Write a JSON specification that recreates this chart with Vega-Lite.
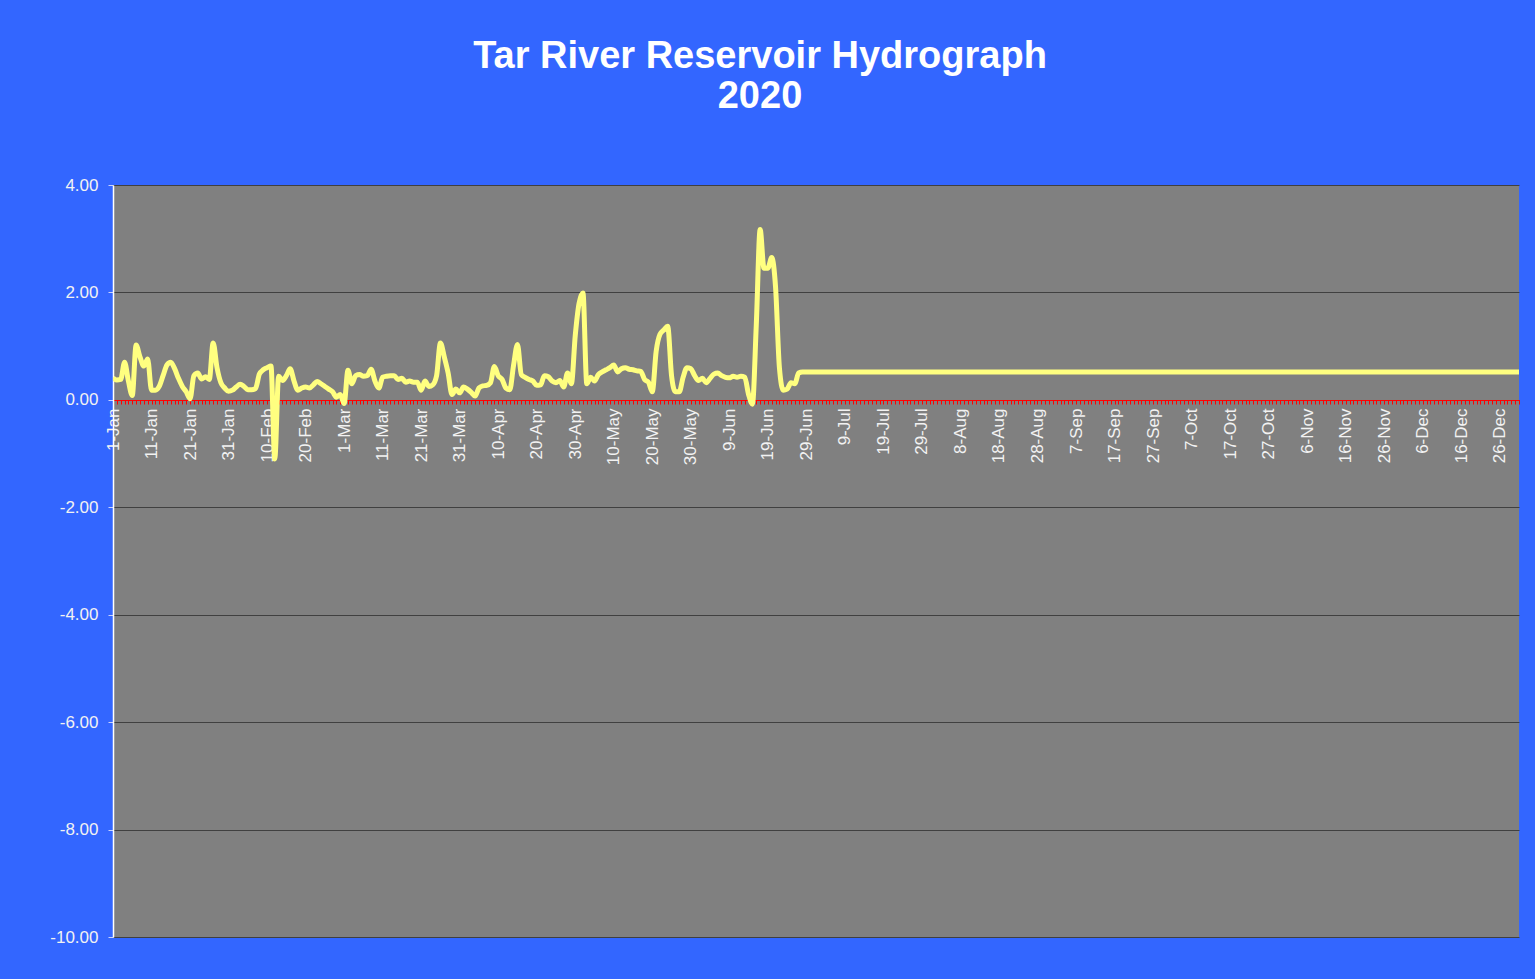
{
  "$schema": "https://vega.github.io/schema/vega-lite/v6.json",
  "width": 1406,
  "height": 752,
  "autosize": {"type": "none"},
  "padding": {"left": 113, "top": 185, "right": 16, "bottom": 42},
  "background": "#3366FF",
  "config": {
    "view": {"fill": "#808080", "stroke": null},
    "font": "Liberation Sans"
  },
  "title": {
    "text": ["Tar River Reservoir Hydrograph", "2020"],
    "color": "#FFFFFF",
    "font": "Liberation Sans",
    "fontSize": 38,
    "fontWeight": "bold",
    "lineHeight": 40,
    "anchor": "middle",
    "frame": "group",
    "dx": -56,
    "offset": 60
  },
  "data": {
    "values": [
      {"date": "2020-01-01", "level": 0.41}, {"date": "2020-01-02", "level": 0.37}, {"date": "2020-01-03", "level": 0.38}, {"date": "2020-01-04", "level": 0.70}, {"date": "2020-01-05", "level": 0.35},
      {"date": "2020-01-06", "level": 0.08}, {"date": "2020-01-07", "level": 1.02}, {"date": "2020-01-08", "level": 0.80}, {"date": "2020-01-09", "level": 0.63}, {"date": "2020-01-10", "level": 0.76},
      {"date": "2020-01-11", "level": 0.18}, {"date": "2020-01-12", "level": 0.18}, {"date": "2020-01-13", "level": 0.25}, {"date": "2020-01-14", "level": 0.45}, {"date": "2020-01-15", "level": 0.65},
      {"date": "2020-01-16", "level": 0.70}, {"date": "2020-01-17", "level": 0.58}, {"date": "2020-01-18", "level": 0.40}, {"date": "2020-01-19", "level": 0.25}, {"date": "2020-01-20", "level": 0.15},
      {"date": "2020-01-21", "level": 0.02}, {"date": "2020-01-22", "level": 0.45}, {"date": "2020-01-23", "level": 0.50}, {"date": "2020-01-24", "level": 0.39}, {"date": "2020-01-25", "level": 0.43},
      {"date": "2020-01-26", "level": 0.38}, {"date": "2020-01-27", "level": 1.06}, {"date": "2020-01-28", "level": 0.60}, {"date": "2020-01-29", "level": 0.32}, {"date": "2020-01-30", "level": 0.22},
      {"date": "2020-01-31", "level": 0.16},
      {"date": "2020-02-01", "level": 0.18}, {"date": "2020-02-02", "level": 0.24}, {"date": "2020-02-03", "level": 0.29}, {"date": "2020-02-04", "level": 0.25}, {"date": "2020-02-05", "level": 0.19},
      {"date": "2020-02-06", "level": 0.19}, {"date": "2020-02-07", "level": 0.21}, {"date": "2020-02-08", "level": 0.48}, {"date": "2020-02-09", "level": 0.56}, {"date": "2020-02-10", "level": 0.60},
      {"date": "2020-02-11", "level": 0.63}, {"date": "2020-02-12", "level": -1.10}, {"date": "2020-02-13", "level": 0.44}, {"date": "2020-02-14", "level": 0.36}, {"date": "2020-02-15", "level": 0.45},
      {"date": "2020-02-16", "level": 0.58}, {"date": "2020-02-17", "level": 0.35}, {"date": "2020-02-18", "level": 0.18}, {"date": "2020-02-19", "level": 0.22}, {"date": "2020-02-20", "level": 0.24},
      {"date": "2020-02-21", "level": 0.22}, {"date": "2020-02-22", "level": 0.28}, {"date": "2020-02-23", "level": 0.34}, {"date": "2020-02-24", "level": 0.30}, {"date": "2020-02-25", "level": 0.25},
      {"date": "2020-02-26", "level": 0.20}, {"date": "2020-02-27", "level": 0.15}, {"date": "2020-02-28", "level": 0.05}, {"date": "2020-02-29", "level": 0.10},
      {"date": "2020-03-01", "level": -0.07}, {"date": "2020-03-02", "level": 0.55}, {"date": "2020-03-03", "level": 0.30}, {"date": "2020-03-04", "level": 0.45}, {"date": "2020-03-05", "level": 0.47},
      {"date": "2020-03-06", "level": 0.44}, {"date": "2020-03-07", "level": 0.45}, {"date": "2020-03-08", "level": 0.57}, {"date": "2020-03-09", "level": 0.35}, {"date": "2020-03-10", "level": 0.22},
      {"date": "2020-03-11", "level": 0.42}, {"date": "2020-03-12", "level": 0.44}, {"date": "2020-03-13", "level": 0.45}, {"date": "2020-03-14", "level": 0.45}, {"date": "2020-03-15", "level": 0.38},
      {"date": "2020-03-16", "level": 0.40}, {"date": "2020-03-17", "level": 0.33}, {"date": "2020-03-18", "level": 0.35}, {"date": "2020-03-19", "level": 0.33}, {"date": "2020-03-20", "level": 0.33},
      {"date": "2020-03-21", "level": 0.18}, {"date": "2020-03-22", "level": 0.35}, {"date": "2020-03-23", "level": 0.25}, {"date": "2020-03-24", "level": 0.28}, {"date": "2020-03-25", "level": 0.45},
      {"date": "2020-03-26", "level": 1.06}, {"date": "2020-03-27", "level": 0.80}, {"date": "2020-03-28", "level": 0.50}, {"date": "2020-03-29", "level": 0.10}, {"date": "2020-03-30", "level": 0.20},
      {"date": "2020-03-31", "level": 0.13},
      {"date": "2020-04-01", "level": 0.24}, {"date": "2020-04-02", "level": 0.20}, {"date": "2020-04-03", "level": 0.14}, {"date": "2020-04-04", "level": 0.07}, {"date": "2020-04-05", "level": 0.22},
      {"date": "2020-04-06", "level": 0.26}, {"date": "2020-04-07", "level": 0.27}, {"date": "2020-04-08", "level": 0.32}, {"date": "2020-04-09", "level": 0.62}, {"date": "2020-04-10", "level": 0.45},
      {"date": "2020-04-11", "level": 0.38}, {"date": "2020-04-12", "level": 0.22}, {"date": "2020-04-13", "level": 0.19}, {"date": "2020-04-14", "level": 0.65}, {"date": "2020-04-15", "level": 1.03},
      {"date": "2020-04-16", "level": 0.47}, {"date": "2020-04-17", "level": 0.42}, {"date": "2020-04-18", "level": 0.38}, {"date": "2020-04-19", "level": 0.35}, {"date": "2020-04-20", "level": 0.27},
      {"date": "2020-04-21", "level": 0.28}, {"date": "2020-04-22", "level": 0.45}, {"date": "2020-04-23", "level": 0.43}, {"date": "2020-04-24", "level": 0.35}, {"date": "2020-04-25", "level": 0.32},
      {"date": "2020-04-26", "level": 0.36}, {"date": "2020-04-27", "level": 0.24}, {"date": "2020-04-28", "level": 0.50}, {"date": "2020-04-29", "level": 0.30}, {"date": "2020-04-30", "level": 1.20},
      {"date": "2020-05-01", "level": 1.80}, {"date": "2020-05-02", "level": 1.99}, {"date": "2020-05-03", "level": 0.30}, {"date": "2020-05-04", "level": 0.42}, {"date": "2020-05-05", "level": 0.35},
      {"date": "2020-05-06", "level": 0.47}, {"date": "2020-05-07", "level": 0.52}, {"date": "2020-05-08", "level": 0.56}, {"date": "2020-05-09", "level": 0.60}, {"date": "2020-05-10", "level": 0.65},
      {"date": "2020-05-11", "level": 0.52}, {"date": "2020-05-12", "level": 0.58}, {"date": "2020-05-13", "level": 0.60}, {"date": "2020-05-14", "level": 0.57}, {"date": "2020-05-15", "level": 0.56},
      {"date": "2020-05-16", "level": 0.54}, {"date": "2020-05-17", "level": 0.53}, {"date": "2020-05-18", "level": 0.38}, {"date": "2020-05-19", "level": 0.33}, {"date": "2020-05-20", "level": 0.15},
      {"date": "2020-05-21", "level": 0.90}, {"date": "2020-05-22", "level": 1.22}, {"date": "2020-05-23", "level": 1.30}, {"date": "2020-05-24", "level": 1.37}, {"date": "2020-05-25", "level": 0.45},
      {"date": "2020-05-26", "level": 0.15}, {"date": "2020-05-27", "level": 0.15}, {"date": "2020-05-28", "level": 0.42}, {"date": "2020-05-29", "level": 0.60}, {"date": "2020-05-30", "level": 0.58},
      {"date": "2020-05-31", "level": 0.45},
      {"date": "2020-06-01", "level": 0.36}, {"date": "2020-06-02", "level": 0.40}, {"date": "2020-06-03", "level": 0.32}, {"date": "2020-06-04", "level": 0.40}, {"date": "2020-06-05", "level": 0.48},
      {"date": "2020-06-06", "level": 0.50}, {"date": "2020-06-07", "level": 0.45}, {"date": "2020-06-08", "level": 0.42}, {"date": "2020-06-09", "level": 0.41}, {"date": "2020-06-10", "level": 0.44},
      {"date": "2020-06-11", "level": 0.42}, {"date": "2020-06-12", "level": 0.44}, {"date": "2020-06-13", "level": 0.42}, {"date": "2020-06-14", "level": 0.10}, {"date": "2020-06-15", "level": -0.08},
      {"date": "2020-06-16", "level": 1.40}, {"date": "2020-06-17", "level": 3.17}, {"date": "2020-06-18", "level": 2.45}, {"date": "2020-06-19", "level": 2.45}, {"date": "2020-06-20", "level": 2.65},
      {"date": "2020-06-21", "level": 2.10}, {"date": "2020-06-22", "level": 0.60}, {"date": "2020-06-23", "level": 0.18}, {"date": "2020-06-24", "level": 0.20}, {"date": "2020-06-25", "level": 0.32},
      {"date": "2020-06-26", "level": 0.30}, {"date": "2020-06-27", "level": 0.50}, {"date": "2020-06-28", "level": 0.52}, {"date": "2020-06-29", "level": 0.52}, {"date": "2020-06-30", "level": 0.52},
      {"date": "2020-07-01", "level": 0.52}, {"date": "2020-07-02", "level": 0.52}, {"date": "2020-07-03", "level": 0.52}, {"date": "2020-07-04", "level": 0.52}, {"date": "2020-07-05", "level": 0.52},
      {"date": "2020-07-06", "level": 0.52}, {"date": "2020-07-07", "level": 0.52}, {"date": "2020-07-08", "level": 0.52}, {"date": "2020-07-09", "level": 0.52}, {"date": "2020-07-10", "level": 0.52},
      {"date": "2020-07-11", "level": 0.52}, {"date": "2020-07-12", "level": 0.52}, {"date": "2020-07-13", "level": 0.52}, {"date": "2020-07-14", "level": 0.52}, {"date": "2020-07-15", "level": 0.52},
      {"date": "2020-07-16", "level": 0.52}, {"date": "2020-07-17", "level": 0.52}, {"date": "2020-07-18", "level": 0.52}, {"date": "2020-07-19", "level": 0.52}, {"date": "2020-07-20", "level": 0.52},
      {"date": "2020-07-21", "level": 0.52}, {"date": "2020-07-22", "level": 0.52}, {"date": "2020-07-23", "level": 0.52}, {"date": "2020-07-24", "level": 0.52}, {"date": "2020-07-25", "level": 0.52},
      {"date": "2020-07-26", "level": 0.52}, {"date": "2020-07-27", "level": 0.52}, {"date": "2020-07-28", "level": 0.52}, {"date": "2020-07-29", "level": 0.52}, {"date": "2020-07-30", "level": 0.52},
      {"date": "2020-07-31", "level": 0.52},
      {"date": "2020-08-01", "level": 0.52}, {"date": "2020-08-02", "level": 0.52}, {"date": "2020-08-03", "level": 0.52}, {"date": "2020-08-04", "level": 0.52}, {"date": "2020-08-05", "level": 0.52},
      {"date": "2020-08-06", "level": 0.52}, {"date": "2020-08-07", "level": 0.52}, {"date": "2020-08-08", "level": 0.52}, {"date": "2020-08-09", "level": 0.52}, {"date": "2020-08-10", "level": 0.52},
      {"date": "2020-08-11", "level": 0.52}, {"date": "2020-08-12", "level": 0.52}, {"date": "2020-08-13", "level": 0.52}, {"date": "2020-08-14", "level": 0.52}, {"date": "2020-08-15", "level": 0.52},
      {"date": "2020-08-16", "level": 0.52}, {"date": "2020-08-17", "level": 0.52}, {"date": "2020-08-18", "level": 0.52}, {"date": "2020-08-19", "level": 0.52}, {"date": "2020-08-20", "level": 0.52},
      {"date": "2020-08-21", "level": 0.52}, {"date": "2020-08-22", "level": 0.52}, {"date": "2020-08-23", "level": 0.52}, {"date": "2020-08-24", "level": 0.52}, {"date": "2020-08-25", "level": 0.52},
      {"date": "2020-08-26", "level": 0.52}, {"date": "2020-08-27", "level": 0.52}, {"date": "2020-08-28", "level": 0.52}, {"date": "2020-08-29", "level": 0.52}, {"date": "2020-08-30", "level": 0.52},
      {"date": "2020-08-31", "level": 0.52},
      {"date": "2020-09-01", "level": 0.52}, {"date": "2020-09-02", "level": 0.52}, {"date": "2020-09-03", "level": 0.52}, {"date": "2020-09-04", "level": 0.52}, {"date": "2020-09-05", "level": 0.52},
      {"date": "2020-09-06", "level": 0.52}, {"date": "2020-09-07", "level": 0.52}, {"date": "2020-09-08", "level": 0.52}, {"date": "2020-09-09", "level": 0.52}, {"date": "2020-09-10", "level": 0.52},
      {"date": "2020-09-11", "level": 0.52}, {"date": "2020-09-12", "level": 0.52}, {"date": "2020-09-13", "level": 0.52}, {"date": "2020-09-14", "level": 0.52}, {"date": "2020-09-15", "level": 0.52},
      {"date": "2020-09-16", "level": 0.52}, {"date": "2020-09-17", "level": 0.52}, {"date": "2020-09-18", "level": 0.52}, {"date": "2020-09-19", "level": 0.52}, {"date": "2020-09-20", "level": 0.52},
      {"date": "2020-09-21", "level": 0.52}, {"date": "2020-09-22", "level": 0.52}, {"date": "2020-09-23", "level": 0.52}, {"date": "2020-09-24", "level": 0.52}, {"date": "2020-09-25", "level": 0.52},
      {"date": "2020-09-26", "level": 0.52}, {"date": "2020-09-27", "level": 0.52}, {"date": "2020-09-28", "level": 0.52}, {"date": "2020-09-29", "level": 0.52}, {"date": "2020-09-30", "level": 0.52},
      {"date": "2020-10-01", "level": 0.52}, {"date": "2020-10-02", "level": 0.52}, {"date": "2020-10-03", "level": 0.52}, {"date": "2020-10-04", "level": 0.52}, {"date": "2020-10-05", "level": 0.52},
      {"date": "2020-10-06", "level": 0.52}, {"date": "2020-10-07", "level": 0.52}, {"date": "2020-10-08", "level": 0.52}, {"date": "2020-10-09", "level": 0.52}, {"date": "2020-10-10", "level": 0.52},
      {"date": "2020-10-11", "level": 0.52}, {"date": "2020-10-12", "level": 0.52}, {"date": "2020-10-13", "level": 0.52}, {"date": "2020-10-14", "level": 0.52}, {"date": "2020-10-15", "level": 0.52},
      {"date": "2020-10-16", "level": 0.52}, {"date": "2020-10-17", "level": 0.52}, {"date": "2020-10-18", "level": 0.52}, {"date": "2020-10-19", "level": 0.52}, {"date": "2020-10-20", "level": 0.52},
      {"date": "2020-10-21", "level": 0.52}, {"date": "2020-10-22", "level": 0.52}, {"date": "2020-10-23", "level": 0.52}, {"date": "2020-10-24", "level": 0.52}, {"date": "2020-10-25", "level": 0.52},
      {"date": "2020-10-26", "level": 0.52}, {"date": "2020-10-27", "level": 0.52}, {"date": "2020-10-28", "level": 0.52}, {"date": "2020-10-29", "level": 0.52}, {"date": "2020-10-30", "level": 0.52},
      {"date": "2020-10-31", "level": 0.52},
      {"date": "2020-11-01", "level": 0.52}, {"date": "2020-11-02", "level": 0.52}, {"date": "2020-11-03", "level": 0.52}, {"date": "2020-11-04", "level": 0.52}, {"date": "2020-11-05", "level": 0.52},
      {"date": "2020-11-06", "level": 0.52}, {"date": "2020-11-07", "level": 0.52}, {"date": "2020-11-08", "level": 0.52}, {"date": "2020-11-09", "level": 0.52}, {"date": "2020-11-10", "level": 0.52},
      {"date": "2020-11-11", "level": 0.52}, {"date": "2020-11-12", "level": 0.52}, {"date": "2020-11-13", "level": 0.52}, {"date": "2020-11-14", "level": 0.52}, {"date": "2020-11-15", "level": 0.52},
      {"date": "2020-11-16", "level": 0.52}, {"date": "2020-11-17", "level": 0.52}, {"date": "2020-11-18", "level": 0.52}, {"date": "2020-11-19", "level": 0.52}, {"date": "2020-11-20", "level": 0.52},
      {"date": "2020-11-21", "level": 0.52}, {"date": "2020-11-22", "level": 0.52}, {"date": "2020-11-23", "level": 0.52}, {"date": "2020-11-24", "level": 0.52}, {"date": "2020-11-25", "level": 0.52},
      {"date": "2020-11-26", "level": 0.52}, {"date": "2020-11-27", "level": 0.52}, {"date": "2020-11-28", "level": 0.52}, {"date": "2020-11-29", "level": 0.52}, {"date": "2020-11-30", "level": 0.52},
      {"date": "2020-12-01", "level": 0.52}, {"date": "2020-12-02", "level": 0.52}, {"date": "2020-12-03", "level": 0.52}, {"date": "2020-12-04", "level": 0.52}, {"date": "2020-12-05", "level": 0.52},
      {"date": "2020-12-06", "level": 0.52}, {"date": "2020-12-07", "level": 0.52}, {"date": "2020-12-08", "level": 0.52}, {"date": "2020-12-09", "level": 0.52}, {"date": "2020-12-10", "level": 0.52},
      {"date": "2020-12-11", "level": 0.52}, {"date": "2020-12-12", "level": 0.52}, {"date": "2020-12-13", "level": 0.52}, {"date": "2020-12-14", "level": 0.52}, {"date": "2020-12-15", "level": 0.52},
      {"date": "2020-12-16", "level": 0.52}, {"date": "2020-12-17", "level": 0.52}, {"date": "2020-12-18", "level": 0.52}, {"date": "2020-12-19", "level": 0.52}, {"date": "2020-12-20", "level": 0.52},
      {"date": "2020-12-21", "level": 0.52}, {"date": "2020-12-22", "level": 0.52}, {"date": "2020-12-23", "level": 0.52}, {"date": "2020-12-24", "level": 0.52}, {"date": "2020-12-25", "level": 0.52},
      {"date": "2020-12-26", "level": 0.52}, {"date": "2020-12-27", "level": 0.52}, {"date": "2020-12-28", "level": 0.52}, {"date": "2020-12-29", "level": 0.52}, {"date": "2020-12-30", "level": 0.52},
      {"date": "2020-12-31", "level": 0.52}
    ]
  },
  "mark": {"type": "line", "color": "#FFFF80", "strokeWidth": 5, "interpolate": "monotone", "clip": true},
  "encoding": {
    "x": {
      "field": "date",
      "type": "temporal",
      "scale": {
        "type": "utc",
        "domain": [
          {"year": 2020, "month": 1, "date": 1, "utc": true},
          {"year": 2020, "month": 12, "date": 31, "utc": true}
        ],
        "nice": false
      },
      "axis": {
        "orient": "bottom",
        "offset": -537,
        "title": null,
        "grid": false,
        "domainColor": "#FF0000",
        "domainWidth": 1,
        "tickColor": "#FF0000",
        "tickSize": 4,
        "tickWidth": 1,
        "tickCount": {"interval": "day", "step": 1},
        "labelExpr": "round((datum.value - utc(2020, 0, 1)) / 86400000) % 10 == 0 ? utcFormat(datum.value, '%-d-%b') : ''",
        "labelAngle": 270,
        "labelAlign": "right",
        "labelBaseline": "middle",
        "labelPadding": 4,
        "labelColor": "#F2F2F2",
        "labelFont": "Liberation Sans",
        "labelFontSize": 17,
        "labelOverlap": false,
        "labelFlush": false,
        "labelBound": false
      }
    },
    "y": {
      "field": "level",
      "type": "quantitative",
      "scale": {"domain": [-10, 4], "nice": false, "zero": false},
      "axis": {
        "title": null,
        "values": [-10, -8, -6, -4, -2, 0, 2, 4],
        "format": ".2f",
        "labelExpr": "replace(datum.label, '\u2212', '-')",
        "grid": true,
        "gridColor": "#404040",
        "gridWidth": 1,
        "domainColor": "#FFFFFF",
        "domainWidth": 1.5,
        "tickColor": "#C8D2FF",
        "tickSize": 5,
        "labelPadding": 10,
        "labelColor": "#F2F2F2",
        "labelFont": "Liberation Sans",
        "labelFontSize": 17
      }
    }
  }
}
